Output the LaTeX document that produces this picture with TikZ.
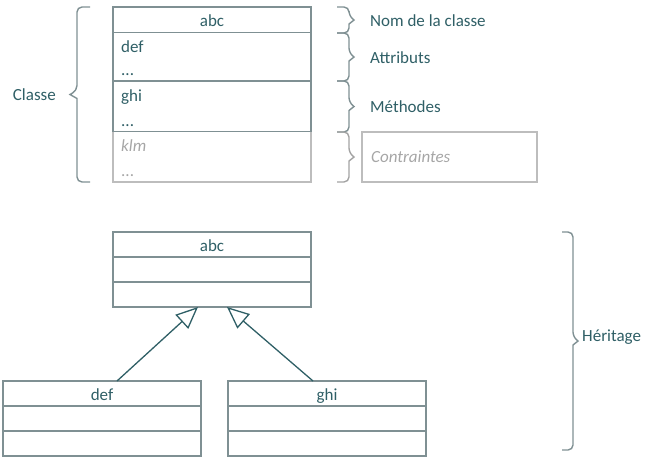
\documentclass[tikz,border=0pt]{standalone}
\usepackage{fontspec}
\setmainfont{Carlito}
\usetikzlibrary{arrows.meta}
\definecolor{txt}{HTML}{2F5F66}
\definecolor{bord}{HTML}{7F9093}
\definecolor{gtxt}{HTML}{A6A6A6}
\definecolor{gbord}{HTML}{BDBDBD}
\definecolor{gbrace}{HTML}{A3A3A3}
\newcommand{\mybrace}[6]{%
  \draw[#6,rounded corners=5pt] (#1,#2) -- ({#1+#4},#2) -- ({#1+#4},{(#2+#3)/2-4}) [sharp corners]
    -- ({#1+#4+#5},{(#2+#3)/2}) -- ({#1+#4},{(#2+#3)/2+4}) [rounded corners=5pt] -- ({#1+#4},#3) -- (#1,#3);}
\begin{document}
\begin{tikzpicture}[x=1pt,y=-1pt,font=\fontsize{17}{20}\selectfont,
  row/.style={draw=bord,line width=1.5pt,inner sep=0pt,outer sep=0pt,anchor=north west,minimum width=198pt,minimum height=25pt},
  lbl/.style={text=txt,inner sep=0pt,anchor=base west},
  ctr/.style={text=txt,inner sep=0pt,anchor=base},
  glbl/.style={text=gtxt,inner sep=0pt,anchor=base west},
  brc/.style={draw=bord,line width=1.4pt},
  inh/.style={draw=txt,line width=1.3pt,-{Triangle[open,length=22pt,width=19pt,fill=white]}}]
\useasboundingbox (0,0) rectangle (659,456);
% top class box
\node[row,draw=gbord,minimum height=50.5pt] (c4) at (113,131.5) {};
\node[row,minimum height=25.5pt] (c1) at (113,7) {};
\node[row,minimum height=48.5pt] (c2) at (113,32.5) {};
\node[row,minimum height=50.5pt] (c3) at (113,81) {};
\node[ctr] (c1t) at (212,26) {abc};
\node[lbl] (c2a) at (121,52) {def};
\node[lbl] (c2b) at (121,75) {...};
\node[lbl] (c3a) at (121,101.5) {ghi};
\node[lbl] (c3b) at (121,126) {...};
\node[glbl,font=\fontsize{17}{20}\selectfont\itshape] (c4a) at (121,151) {klm};
\node[glbl] (c4b) at (121,176) {...};
% braces
\mybrace{90}{7}{182}{-13}{-7}{brc}
\mybrace{337}{7}{33}{12}{5}{brc}
\mybrace{337}{33}{81}{12}{5}{brc}
\mybrace{337}{81}{132}{12}{5}{brc}
\mybrace{337}{132}{182}{12}{5}{brc,draw=gbrace}
\mybrace{562}{232}{450}{11}{5}{brc}
% labels
\node[text=txt,inner sep=0pt,anchor=base east] (lcl) at (56,100.5) {Classe};
\node[lbl] (lnom) at (370,26) {Nom de la classe};
\node[lbl] (latt) at (370,63.3) {Attributs};
\node[lbl] (lmet) at (370,112.7) {Méthodes};
\node[draw=gbord,line width=1.5pt,inner sep=0pt,outer sep=0pt,anchor=north west,minimum width=175pt,minimum height=50pt] (cb) at (362,132) {};
\node[glbl,font=\fontsize{17}{20}\selectfont\itshape] (lcon) at (371,162.5) {Contraintes};
\node[lbl] (lher) at (582,341) {Héritage};
% inheritance
\node[row] (a1) at (113,232) {};
\node[row] (a2) at (113,257) {};
\node[row] (a3) at (113,282) {};
\node[ctr] (a1t) at (212,251) {abc};
\node[row] (d1) at (3,381) {};
\node[row] (d2) at (3,406) {};
\node[row] (d3) at (3,431) {};
\node[ctr] (d1t) at (102,400) {def};
\node[row] (g1) at (228,381) {};
\node[row] (g2) at (228,406) {};
\node[row] (g3) at (228,431) {};
\node[ctr] (g1t) at (327,400) {ghi};
\draw[inh] ([xshift=15pt]d1.north) -- ([xshift=-14pt]a3.south);
\draw[inh] ([xshift=-14pt]g1.north) -- ([xshift=15pt]a3.south);
\end{tikzpicture}
\end{document}
